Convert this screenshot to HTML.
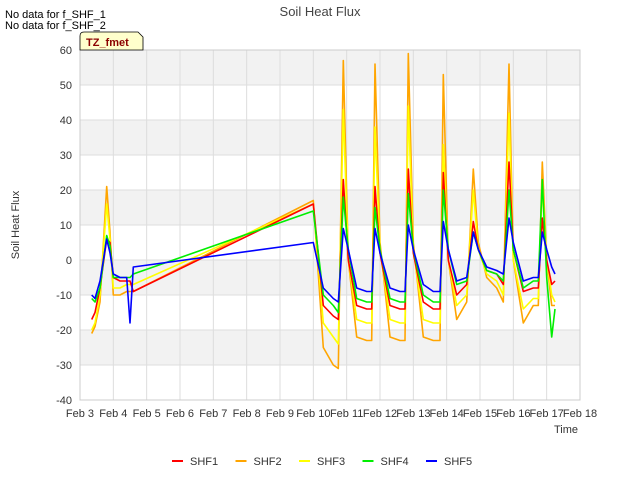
<!DOCTYPE html>
<html><head><meta charset="utf-8"><style>
body{margin:0;background:#fff;font-family:"Liberation Sans",sans-serif;}
svg text{font-family:"Liberation Sans",sans-serif;}
</style></head><body>
<svg id="c" width="640" height="480" xmlns="http://www.w3.org/2000/svg">
<rect width="640" height="480" fill="#fff"/>
<g id="plot"></g>
<text x="320" y="16" text-anchor="middle" font-size="13" fill="#444">Soil Heat Flux</text>
<text x="5" y="18" font-size="11" fill="#000">No data for f_SHF_1</text>
<text x="5" y="29" font-size="11" fill="#000">No data for f_SHF_2</text>
<g>
<path d="M80,50 L80,36 Q80,32 84,32 L138,32 L143,37 L143,50 Z" fill="#ffffcc" stroke="#000" stroke-width="0.8"/>
<text x="86" y="46" font-size="11" font-weight="bold" fill="#8b0000">TZ_fmet</text>
</g>
<text x="19" y="225" font-size="11" fill="#333" transform="rotate(-90 19 225)" text-anchor="middle">Soil Heat Flux</text>
<text x="566" y="433" font-size="11" fill="#333" text-anchor="middle">Time</text>
<g id="legend"></g>
</svg>
<script>
const xTicks=["Feb 3","Feb 4","Feb 5","Feb 6","Feb 7","Feb 8","Feb 9","Feb 10","Feb 11","Feb 12","Feb 13","Feb 14","Feb 15","Feb 16","Feb 17","Feb 18"];
const yTicks=[-40,-30,-20,-10,0,10,20,30,40,50,60];
const times=[0.35,0.45,0.6,0.8,0.9,1.0,1.2,1.4,1.5,1.6,7.0,7.3,7.6,7.75,7.9,8.05,8.3,8.6,8.75,8.85,9.0,9.3,9.6,9.75,9.85,10.0,10.3,10.6,10.8,10.9,11.05,11.3,11.6,11.8,11.95,12.2,12.5,12.7,12.87,13.0,13.3,13.6,13.75,13.87,14.0,14.15,14.25];
const seriesNames=["SHF1","SHF2","SHF3","SHF4","SHF5"];
const shf1=[-17,-15,-8,6,5,-5,-6,-6,-6,-9,16,-13,-16,-17,23,0,-13,-14,-14,21,2,-13,-14,-14,26,2,-12,-14,-14,25,0,-10,-7,11,3,-3,-4,-7,28,3,-9,-8,-8,12,0,-7,-6];
const shf2=[-21,-19,-12,21,8,-10,-10,-9,-9,-9,17,-25,-30,-31,57,0,-22,-23,-23,56,5,-22,-23,-23,59,5,-22,-23,-23,53,0,-17,-12,26,5,-5,-8,-12,56,0,-18,-13,-13,28,0,-13,-13];
const shf3=[-20,-18,-10,16,6,-8,-8,-7,-7,-7,16,-18,-22,-24,43,0,-17,-18,-18,38,3,-17,-18,-18,44,3,-17,-18,-18,33,0,-13,-10,20,3,-4,-6,-10,42,0,-14,-11,-11,22,0,-10,-12];
const shf4=[-11,-12,-8,7,4,-5,-5,-5,-5,-4,14,-10,-13,-15,18,3,-11,-12,-12,15,3,-11,-12,-12,19,3,-10,-12,-12,20,3,-7,-6,8,3,-3,-4,-6,20,3,-8,-6,-6,23,-5,-22,-14];
const shf5=[-10,-11,-6,6,2,-4,-5,-5,-18,-2,5,-8,-11,-12,9,3,-8,-9,-9,9,2,-8,-9,-9,10,3,-7,-9,-9,11,3,-6,-5,8,3,-2,-3,-4,12,5,-6,-5,-5,8,3,-2,-4];
const colors=["#ff0000","#ffa500","#ffff00","#00ee00","#0000ff"];
const L=80,R=580,T=50,B=400;
const xs=t=>L+t*(R-L)/15;
const ys=v=>B-(v+40)*(B-T)/100;
const NS="http://www.w3.org/2000/svg";
const g=document.getElementById('plot');
function mk(tag,attrs,parent){const e=document.createElementNS(NS,tag);for(const k in attrs)e.setAttribute(k,attrs[k]);parent.appendChild(e);return e;}
for(let i=0;i<yTicks.length-1;i+=2){
 const b=mk('rect',{x:L,y:ys(yTicks[i+1]+10),width:R-L,height:ys(yTicks[i+1])-ys(yTicks[i+1]+10),fill:'#f2f2f2'},g);
 
 
}
yTicks.forEach(v=>{
 const l=mk('line',{x1:L,x2:R,y1:ys(v),y2:ys(v),stroke:'#ddd','stroke-width':1},g);
 
 
 const t=mk('text',{x:L-8,y:ys(v)+4,'text-anchor':'end','font-size':11,fill:'#333'},g);
 
 
 t.textContent=v;
});
xTicks.forEach((s,i)=>{
 const l=mk('line',{x1:xs(i),x2:xs(i),y1:T,y2:B,stroke:'#ddd','stroke-width':1},g);
 
 
 const t=mk('text',{x:xs(i),y:B+17,'text-anchor':'middle','font-size':11,fill:'#333'},g);
 
 
 t.textContent=s;
});
const ax=mk('rect',{x:L,y:T,width:R-L,height:B-T,fill:'none',stroke:'#ccc'},g);


const data=[shf1,shf2,shf3,shf4,shf5];
const order=[1,2,0,3,4];
order.forEach(i=>{
 const pts=times.map((t,j)=>xs(t).toFixed(1)+','+ys(data[i][j]).toFixed(1)).join(' ');
 const p=mk('polyline',{points:pts,fill:'none',stroke:colors[i],'stroke-width':1.6,'stroke-linejoin':'round'},g);
 
 
});
const lg=document.getElementById('legend');
seriesNames.forEach((n,i)=>{
 const x0=172+i*63.5;
 const ge=mk('g',{},lg);
 
 
 mk('line',{x1:x0,x2:x0+11,y1:461,y2:461,stroke:colors[i],'stroke-width':2},ge);
 const t=mk('text',{x:x0+18,y:465,'font-size':11,fill:'#333'},ge);
 t.textContent=n;
});
</script>
</body></html>
